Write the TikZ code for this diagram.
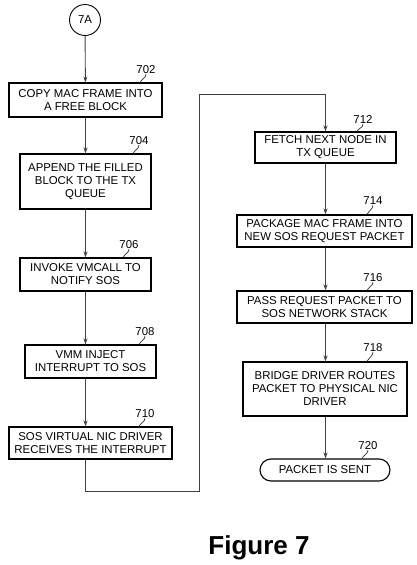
\documentclass[tikz,border=0pt]{standalone}
\usepackage{fontspec}
\setmainfont{Liberation Sans}
\usetikzlibrary{arrows.meta,shapes.misc}

\begin{document}
\begin{tikzpicture}[
  x=1pt, y=-1pt,
  >={Stealth[length=6pt,width=4pt]},
  font=\fontsize{11.4}{13}\selectfont,
  stepbox/.style={rectangle, draw=black, line width=1.1pt, align=center, inner sep=1pt},
  endbox/.style={rounded rectangle, draw=black, line width=1.1pt, minimum width=132pt, minimum height=22pt, inner sep=1pt},
  connode/.style={circle, draw=black, line width=0.9pt, minimum size=31pt, inner sep=0pt},
  refnum/.style={inner sep=0pt, anchor=south},
  flow/.style={->, draw=black!75, line width=0.9pt},
  leader/.style={draw=black!80, line width=0.7pt},
  ]
\useasboundingbox (0,0) rectangle (417,565);

\node[connode] (c7a) at (85,20) {7A};

\node[stepbox, minimum width=153pt, minimum height=34pt] (n702) at (85.5,100) {COPY MAC FRAME INTO\\A FREE BLOCK};
\node[stepbox, minimum width=131pt, minimum height=55pt] (n704) at (85.5,181.5) {APPEND THE FILLED\\BLOCK TO THE TX\\QUEUE};
\node[stepbox, minimum width=131pt, minimum height=33pt] (n706) at (85.5,274.5) {INVOKE VMCALL TO\\NOTIFY SOS};
\node[stepbox, minimum width=131pt, minimum height=33pt] (n708) at (90.5,361.5) {VMM INJECT\\INTERRUPT TO SOS};
\node[stepbox, minimum width=163pt, minimum height=32pt] (n710) at (90.5,443) {SOS VIRTUAL NIC DRIVER\\RECEIVES THE INTERRUPT};

\node[stepbox, minimum width=141pt, minimum height=31pt] (n712) at (325.5,147.5) {FETCH NEXT NODE IN\\TX QUEUE};
\node[stepbox, minimum width=175pt, minimum height=32pt] (n714) at (324.5,231) {PACKAGE MAC FRAME INTO\\NEW SOS REQUEST PACKET};
\node[stepbox, minimum width=175pt, minimum height=32pt] (n716) at (324.5,307) {PASS REQUEST PACKET TO\\SOS NETWORK STACK};
\node[stepbox, minimum width=164pt, minimum height=54pt] (n718) at (325,389) {BRIDGE DRIVER ROUTES\\PACKET TO PHYSICAL NIC\\DRIVER};
\node[endbox] (n720) at (325,470) {PACKET IS SENT};

% reference numerals
\node[refnum] (l702) at (146,74) {702};
\node[refnum] (l704) at (139,145) {704};
\node[refnum] (l706) at (129,249) {706};
\node[refnum] (l708) at (145,336) {708};
\node[refnum] (l710) at (145,418) {710};
\node[refnum] (l712) at (363,124) {712};
\node[refnum] (l714) at (373,205) {714};
\node[refnum] (l716) at (373,282) {716};
\node[refnum] (l718) at (373,352) {718};
\node[refnum] (l720) at (368,450) {720};

\foreach \n in {702,704,706,708,710,712,714,716,718,720}
  \draw[leader] (l\n.south) .. controls +(0,4) and +(2,-4) .. ([xshift=-6pt]l\n.south |- n\n.north);

% flow lines
\coordinate (bend1) at (199,491);
\coordinate (bend2) at (199,94);

\draw[flow] (c7a) -- (n702);
\draw[flow] (n702) -- (n704);
\draw[flow] (n704) -- (n706);
\draw[flow] (n706.south) -- (n706.south |- n708.north);
\draw[flow] (n708.south -| n706.south) -- (n706.south |- n710.north);
\draw[flow] (n710.south -| n706.south) |- (bend1) -- (bend2) -| (n712.north);
\draw[flow] (n712.south) -- (n712.south |- n714.north);
\draw[flow] (n714.south -| n712.south) -- (n712.south |- n716.north);
\draw[flow] (n716.south -| n712.south) -- (n712.south |- n718.north);
\draw[flow] (n718.south -| n712.south) -- (n712.south |- n720.north);

\node[font=\fontsize{26}{30}\selectfont\bfseries] (fig) at (259,548) {Figure 7};

\end{tikzpicture}
\end{document}
